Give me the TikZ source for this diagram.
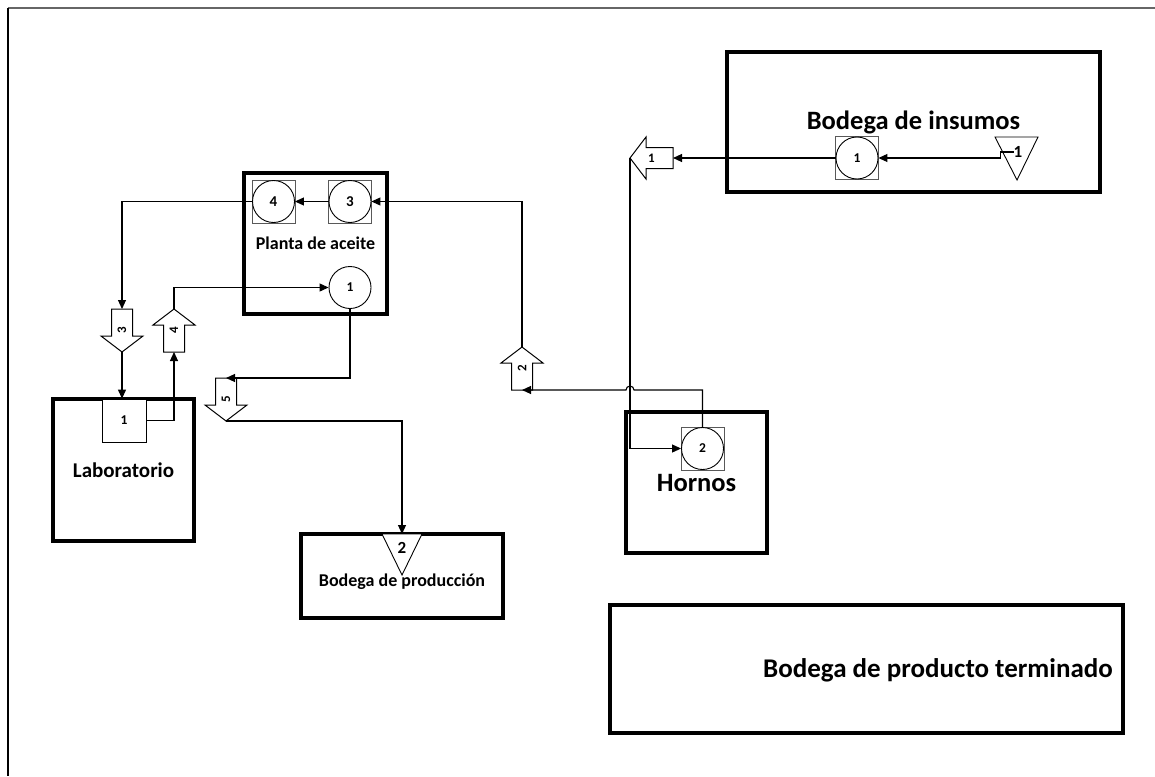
\documentclass[tikz,border=0pt]{standalone}
\usepackage{fontspec}
\setmainfont{Carlito}
\usetikzlibrary{arrows.meta,calc}
\tikzset{
  bigbox/.style={draw, line width=4.5pt, inner sep=0pt},
  conn/.style={line width=1.1pt, -{Triangle[length=9pt,width=8pt]}},
  procc/.style={circle, draw, line width=0.9pt, fill=white, minimum size=42pt, inner sep=0pt},
  sqbox/.style={draw=black!65, line width=0.8pt, fill=white, minimum size=43pt, inner sep=0pt},
  labsq/.style={draw, line width=0.8pt, fill=white, minimum width=44pt, minimum height=43pt, inner sep=0pt},
  blockline/.style={draw, line width=1pt, fill=white, line join=miter},
  arrlabel/.style={inner sep=0pt, font=\bfseries\fontsize{13}{13}\selectfont},
  numA/.style={font=\bfseries\fontsize{13.5}{13.5}\selectfont},
  numB/.style={font=\bfseries\fontsize{15}{15}\selectfont},
  numC/.style={inner sep=0pt, font=\bfseries\fontsize{17}{17}\selectfont},
  bigtext/.style={font=\bfseries\fontsize{26.5}{26.5}\selectfont},
  termfont/.style={font=\bfseries\fontsize{27}{27}\selectfont},
  midtext/.style={font=\bfseries\fontsize{18}{18}\selectfont},
  labtext/.style={font=\bfseries\fontsize{21}{21}\selectfont},
  tri/.style={draw, line width=0.9pt, fill=white, line join=miter},
}
\newcommand{\flowarrow}[6]{%
  \begin{scope}[shift={(#2,#3)}, rotate=#4]
    \path[blockline] (-21.5,-10.5) -- (5.5,-10.5) -- (5.5,-21) -- (21.5,0) -- (5.5,21) -- (5.5,10.5) -- (-21.5,10.5) -- cycle;
    \coordinate (#1tip) at (21.5,0);
    \coordinate (#1tail) at (-21.5,0);
  \end{scope}
  \node[arrlabel, rotate=#5] (#1) at (#2,#3) {#6};%
}
\begin{document}
\begin{tikzpicture}[x=1pt,y=-1pt]
\fill[white] (0,0) rectangle (1155,776);
\useasboundingbox (0,0) rectangle (1155,776);
% outer frame
\coordinate (frTL) at (8,8);
\coordinate (frTR) at (1155,8);
\coordinate (frBL) at (8,776);
\draw[line width=1.6pt, black!60] (frTL) -- (frTR);
\draw[line width=1.4pt, black] (frTL) -- (frBL);

% big boxes
\node[bigbox, minimum width=373pt, minimum height=140pt, bigtext] (insumos) at (913.5,122) {Bodega de insumos};
\node[bigbox, minimum width=141pt, minimum height=141pt, bigtext] (hornos) at (696.5,482.5) {Hornos};
\node[bigbox, minimum width=141pt, minimum height=142pt, labtext] (lab) at (123.5,470) {Laboratorio};
\node[bigbox, minimum width=143pt, minimum height=141pt, midtext] (planta) at (315.5,243.5) {Planta de aceite};
\node[bigbox, minimum width=202pt, minimum height=84pt] (prod) at (402,576) {};
\node[bigbox, minimum width=513pt, minimum height=128pt] (term) at (866.5,669) {};
\node[termfont] (termtxt) at (938,670) {Bodega de producto terminado};

% operations (circles with squares)
\node[sqbox] (s1) at (857,158) {};
\node[procc, numA] (c1) at (857,158) {1};
\node[sqbox] (s2) at (702.5,448.5) {};
\node[procc, numA] (c2) at (702.5,448.5) {2};
\node[sqbox] (s3) at (350,201.5) {};
\node[procc, numB] (c3) at (350,201.5) {3};
\node[sqbox] (s4) at (273.5,201.5) {};
\node[procc, numB] (c4) at (273.5,201.5) {4};
\node[procc, numA] (p1) at (350,287.5) {1};
\node[labsq, numA] (l1) at (124,420.5) {1};

% storage triangles
\path[tri] (995,137) -- (1038,137) -- (1017,180) -- cycle;
\node[numC] (t1) at (1018,152) {1};
\path[tri] (382,534) -- (422,534) -- (402,575) -- cycle;
\coordinate (t2top) at (402,534);
\node[numC] (t2) at (402,548) {2};
\node[midtext] (prodtxt) at (402,582) {Bodega de producción};

% transport block arrows
\flowarrow{a1}{651.5}{158}{180}{0}{1}
\flowarrow{a3}{122}{330.5}{-90}{90}{3}
\flowarrow{a4}{174}{330.5}{90}{90}{4}
\flowarrow{a2}{522}{368.5}{90}{90}{2}
\flowarrow{a5}{226}{399.5}{-90}{90}{5}

% connectors
\draw[conn] (t1.west) -- ++(-13,0) |- (c1.east);
\draw[conn] (c1.west) -- (a1tail);
\draw[conn] (a1tip) |- (c2.west);
\draw[conn] (c2.north) |- ($(a1tip|-a2tail)+(4,0)$) arc[start angle=0, end angle=180, radius=4pt] -- (a2tail);
\draw[conn] (a2tip) |- (c3.east);
\draw[conn] (c3.west) -- (c4.east);
\draw[conn] (c4.west) -| (a3tail);
\draw[conn] (a3tip) -- (a3tip|-l1.north);
\draw[conn] (l1.east) -| (a4tail);
\draw[conn] (a4tip) |- (p1.west);
\draw[conn] (p1.south) |- (a5tail);
\draw[conn] (a5tip) -| (t2top);
\end{tikzpicture}
\end{document}
